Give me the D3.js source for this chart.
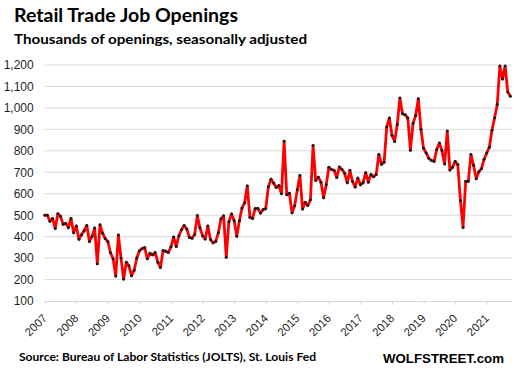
<!DOCTYPE html>
<html>
<head>
<meta charset="utf-8">
<script src="https://cdn.jsdelivr.net/npm/d3@7"></script>
<style>
  body { margin: 0; background: #fff; }
  svg { display: block; }
</style>
</head>
<body>
<div id="chart"></div>
<script>
// Monthly retail trade job openings (thousands), Jan 2007 .. Oct 2021
const startYear = 2007;
const openings = [
  500, 500, 472, 484, 438, 507, 495, 458, 462, 442, 485, 418,
  450, 388, 409, 428, 452, 377, 401, 440, 274, 455, 416, 391,
  377, 325, 297, 216, 408, 301, 202, 281, 264, 218, 243, 300,
  334, 344, 349, 297, 323, 315, 326, 281, 256, 335, 332, 326,
  353, 398, 354, 404, 432, 452, 436, 396, 393, 410, 498, 441,
  404, 389, 450, 387, 371, 377, 418, 483, 497, 304, 469, 506,
  475, 402, 474, 534, 558, 636, 490, 485, 531, 532, 510, 526,
  530, 632, 668, 650, 629, 638, 600, 845, 595, 602, 511, 544,
  618, 685, 529, 560, 545, 572, 825, 662, 677, 654, 581, 642,
  723, 713, 709, 676, 725, 713, 696, 651, 709, 657, 631, 673,
  642, 651, 698, 654, 690, 679, 690, 783, 737, 747, 912, 953,
  872, 844, 923, 1046, 973, 968, 953, 803, 928, 965, 1043, 900,
  812, 790, 765, 755, 751, 806, 836, 801, 739, 892, 711, 723,
  751, 736, 569, 443, 658, 658, 783, 733, 670, 702, 717, 761,
  790, 817, 896, 954, 1016, 1195, 1135, 1195, 1074, 1054
];
const yearLabels = d3.range(2007, 2022).map(String);
const yTicks = d3.range(100, 1201, 100);

const width = 518, height = 381;
const svg = d3.select("#chart").append("svg")
    .attr("width", width)
    .attr("height", height);

const x = d3.scaleLinear().domain([0, openings.length - 1]).range([44.7, 510.4]);
const y = d3.scaleLinear().domain([100, 1200]).range([301, 65]);

const labelFont = "'Liberation Sans', Arial, sans-serif";
const titleFont = "Lato, 'Open Sans', sans-serif";

// gridlines
svg.append("g")
    .selectAll("line")
    .data(yTicks.filter(d => d > 100))
    .join("line")
    .attr("x1", 44.7).attr("x2", 512)
    .attr("y1", d => y(d)).attr("y2", d => y(d))
    .attr("stroke", "#d9d9d9")
    .attr("stroke-width", 1);

// y axis labels
const yAxis = d3.axisLeft(y)
    .tickValues(yTicks)
    .tickSize(0)
    .tickPadding(11)
    .tickFormat(d3.format(","));
svg.append("g")
    .attr("transform", "translate(44.7,0)")
    .call(yAxis)
    .call(g => g.select(".domain").remove())
    .selectAll("text")
    .attr("font-family", labelFont)
    .attr("font-size", 12)
    .attr("fill", "#1f1f1f");

// x axis
const xAxis = d3.axisBottom(x)
    .tickValues(yearLabels.map((_, i) => i * 12))
    .tickSize(4)
    .tickFormat((d, i) => yearLabels[i]);
const gx = svg.append("g")
    .attr("transform", `translate(0,${y(100)})`)
    .call(xAxis);
gx.select(".domain")
    .attr("d", "M44.7,0.5H512")
    .attr("stroke", "#d9d9d9");
gx.selectAll(".tick line").attr("stroke", "#d9d9d9");
gx.selectAll(".tick text")
    .attr("font-family", labelFont)
    .attr("font-size", 11.5)
    .attr("fill", "#1f1f1f")
    .attr("text-anchor", "end")
    .attr("dy", null)
    .attr("y", 0)
    .attr("transform", "translate(2.5,18) rotate(-45)");

// line
const line = d3.line()
    .x((d, i) => x(i))
    .y(d => y(d));
svg.append("path")
    .datum(openings)
    .attr("d", line)
    .attr("fill", "none")
    .attr("stroke", "#ff0000")
    .attr("stroke-width", 2.8)
    .attr("stroke-linejoin", "round");

svg.append("g")
    .selectAll("circle")
    .data(openings)
    .join("circle")
    .attr("cx", (d, i) => x(i))
    .attr("cy", d => y(d))
    .attr("r", 1.5)
    .attr("fill", "#1a1a1a");

// titles
svg.append("text")
    .attr("x", 14).attr("y", 21.5)
    .attr("font-family", titleFont)
    .attr("font-weight", "bold")
    .attr("font-size", 18)
    .attr("textLength", 224)
    .attr("lengthAdjust", "spacingAndGlyphs")
    .text("Retail Trade Job Openings");

svg.append("text")
    .attr("x", 14).attr("y", 44)
    .attr("font-family", titleFont)
    .attr("font-weight", "bold")
    .attr("font-size", 14)
    .attr("textLength", 293)
    .attr("lengthAdjust", "spacingAndGlyphs")
    .text("Thousands of openings, seasonally adjusted");

svg.append("text")
    .attr("x", 19).attr("y", 361)
    .attr("font-family", titleFont)
    .attr("font-weight", "bold")
    .attr("font-size", 11.5)
    .attr("textLength", 297)
    .attr("lengthAdjust", "spacingAndGlyphs")
    .text("Source: Bureau of Labor Statistics (JOLTS), St. Louis Fed");

svg.append("text")
    .attr("x", 383).attr("y", 362.5)
    .attr("font-family", labelFont)
    .attr("font-weight", "bold")
    .attr("font-size", 13)
    .attr("textLength", 121)
    .attr("lengthAdjust", "spacingAndGlyphs")
    .text("WOLFSTREET.com");
</script>
</body>
</html>
